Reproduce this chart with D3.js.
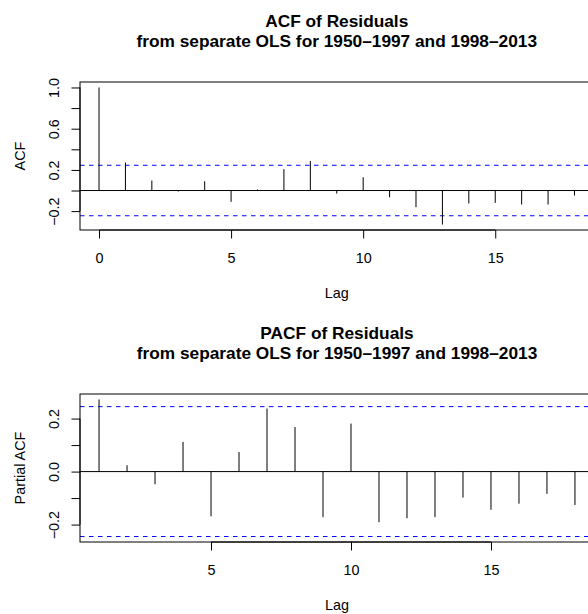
<!DOCTYPE html>
<html>
<head>
<meta charset="utf-8">
<script src="https://cdn.jsdelivr.net/npm/d3@7"></script>
<style>
  html, body { margin: 0; padding: 0; background: #fff; }
  svg { display: block; font-family: "Liberation Sans", Arial, Helvetica, sans-serif; }
</style>
</head>
<body>
<div id="chart"></div>
<script>
// values
const acfLags = [0, 1, 2, 3, 4, 5, 6, 7, 8, 9, 10, 11, 12, 13, 14, 15, 16, 17, 18];
const acfValues = [1.0, 0.272, 0.097, -0.01, 0.09, -0.11, 0.01, 0.207, 0.287, -0.03, 0.129,
                   -0.065, -0.162, -0.33, -0.126, -0.12, -0.136, -0.136, -0.049];
const pacfLags = [1, 2, 3, 4, 5, 6, 7, 8, 9, 10, 11, 12, 13, 14, 15, 16, 17, 18];
const pacfValues = [0.272, 0.024, -0.048, 0.112, -0.169, 0.074, 0.238, 0.168, -0.172, 0.181,
                    -0.191, -0.176, -0.172, -0.098, -0.144, -0.121, -0.084, -0.126];
const clim = 0.245; // 1.96 / sqrt(64)

const acfXTicks = [0, 5, 10, 15];
const pacfXTicks = [5, 10, 15];
const acfYTicks = [-0.2, 0, 0.2, 0.4, 0.6, 0.8, 1.0];
const acfYLabels = ["\u22120.2", "", "0.2", "", "0.6", "", "1.0"];
const pacfYTicks = [-0.2, -0.1, 0, 0.1, 0.2];
const pacfYLabels = ["\u22120.2", "", "0.0", "", "0.2"];

const titleLine1 = ["ACF of Residuals", "PACF of Residuals"];
const titleLine2 = "from separate OLS for 1950\u20131997 and 1998\u20132013";
const yTitles = ["ACF", "Partial ACF"];

const W = 588, H = 614;
const fontSize = 14.4, titleSize = 17.3;

const svg = d3.select("#chart").append("svg")
    .attr("width", W)
    .attr("height", H);

// R style: extend the range by 4% on each side
function rRange(lo, hi) {
    let d = (hi - lo) * 0.04;
    return [lo - d, hi + d];
}

function drawPanel(opts) {
    let left = 80, right = opts.right, top = opts.top, bottom = opts.top + 148;

    let x = d3.scaleLinear()
        .domain(rRange(d3.min(opts.lags), d3.max(opts.lags)))
        .range([left, right]);
    let y = d3.scaleLinear()
        .domain(rRange(Math.min(d3.min(opts.values), -clim), Math.max(d3.max(opts.values), clim)))
        .range([bottom, top]);

    let g = svg.append("g");

    // clip to the plot region
    let clipId = "clip" + opts.idx;
    svg.append("defs").append("clipPath").attr("id", clipId)
        .append("rect")
        .attr("x", left).attr("y", top)
        .attr("width", right - left).attr("height", bottom - top);

    let inner = g.append("g").attr("clip-path", "url(#" + clipId + ")");

    // zero line
    inner.append("line")
        .attr("x1", left).attr("x2", right)
        .attr("y1", y(0)).attr("y2", y(0))
        .attr("stroke", "#000").attr("stroke-width", 1);

    // confidence bounds
    [clim, -clim].forEach(c => {
        inner.append("line")
            .attr("x1", left).attr("x2", right)
            .attr("y1", y(c)).attr("y2", y(c))
            .attr("stroke", "#0000ff").attr("stroke-width", 1)
            .attr("stroke-dasharray", "4.5,4.5");
    });

    // spikes
    inner.selectAll(".spike")
        .data(opts.lags.map((l, i) => ({lag: l, v: opts.values[i]})))
        .enter()
        .append("line")
        .attr("class", "spike")
        .attr("x1", d => x(d.lag)).attr("x2", d => x(d.lag))
        .attr("y1", y(0)).attr("y2", d => y(d.v))
        .attr("stroke", "#000").attr("stroke-width", 1);

    // box
    g.append("rect")
        .attr("x", left).attr("y", top)
        .attr("width", right - left).attr("height", bottom - top)
        .attr("fill", "none").attr("stroke", "#000").attr("stroke-width", 1);

    // x axis
    let xAxis = d3.axisBottom(x)
        .tickValues(opts.xTicks)
        .tickSize(8.5)
        .tickSizeOuter(0)
        .tickFormat(d3.format("d"));
    let xg = g.append("g")
        .attr("transform", "translate(0," + bottom + ")")
        .call(xAxis);
    xg.select(".domain").remove();
    xg.append("line")
        .attr("x1", x(opts.xTicks[0])).attr("x2", x(opts.xTicks[opts.xTicks.length - 1]))
        .attr("stroke", "#000");
    xg.selectAll(".tick line").attr("stroke", "#000");
    xg.selectAll(".tick text")
        .attr("y", 22.3)
        .attr("fill", "#000")
        .style("font-size", fontSize + "px");

    // y axis
    let yAxis = d3.axisLeft(y)
        .tickValues(opts.yTicks)
        .tickSize(8.5)
        .tickSizeOuter(0)
        .tickFormat((d, i) => opts.yLabels[i]);
    let yg = g.append("g")
        .attr("transform", "translate(" + left + ",0)")
        .call(yAxis);
    yg.select(".domain").remove();
    yg.append("line")
        .attr("y1", y(opts.yTicks[0])).attr("y2", y(opts.yTicks[opts.yTicks.length - 1]))
        .attr("stroke", "#000");
    yg.selectAll(".tick line").attr("stroke", "#000");
    yg.selectAll(".tick text")
        .attr("x", null)
        .attr("dy", "0.35em")
        .attr("text-anchor", "middle")
        .attr("transform", "translate(-26.5,0) rotate(-90)")
        .attr("fill", "#000")
        .style("font-size", fontSize + "px");

    // titles
    let cx = (left + right) / 2;
    g.append("text")
        .attr("x", cx).attr("y", top - 55.5)
        .attr("text-anchor", "middle")
        .style("font-size", titleSize + "px").style("font-weight", "bold")
        .text(opts.title1);
    g.append("text")
        .attr("x", cx).attr("y", top - 35)
        .attr("text-anchor", "middle")
        .style("font-size", titleSize + "px").style("font-weight", "bold")
        .text(titleLine2);

    g.append("text")
        .attr("x", cx).attr("y", bottom + 68)
        .attr("text-anchor", "middle")
        .style("font-size", fontSize + "px")
        .text("Lag");

    g.append("text")
        .attr("transform", "translate(19.5," + ((top + bottom) / 2) + ") rotate(-90)")
        .attr("dy", "0.35em")
        .attr("text-anchor", "middle")
        .style("font-size", fontSize + "px")
        .text(opts.yTitle);
}

drawPanel({idx: 0, top: 82, right: 593.5, lags: acfLags, values: acfValues,
           xTicks: acfXTicks, yTicks: acfYTicks, yLabels: acfYLabels,
           title1: titleLine1[0], yTitle: yTitles[0]});
drawPanel({idx: 1, top: 394, right: 594, lags: pacfLags, values: pacfValues,
           xTicks: pacfXTicks, yTicks: pacfYTicks, yLabels: pacfYLabels,
           title1: titleLine1[1], yTitle: yTitles[1]});
</script>
</body>
</html>
